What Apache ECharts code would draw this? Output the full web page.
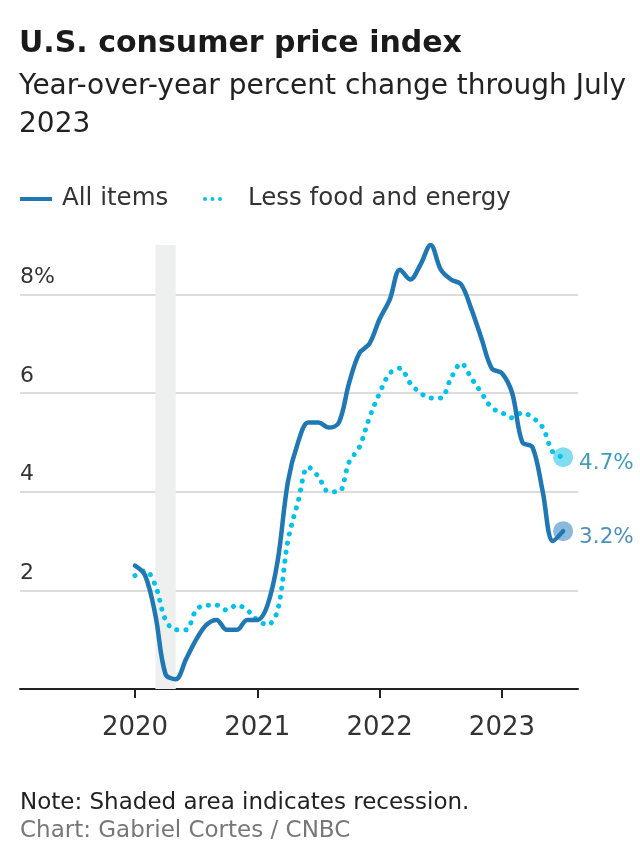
<!DOCTYPE html>
<html><head><meta charset="utf-8">
<script src="https://cdn.jsdelivr.net/npm/echarts@6/dist/echarts.min.js"></script>
<style>html,body{margin:0;padding:0;background:#fff}#c{width:640px;height:853px}</style>
</head><body><div id="c"></div>
<script>
const categories = [
 '2020-01','2020-02','2020-03','2020-04','2020-05','2020-06','2020-07','2020-08','2020-09','2020-10','2020-11','2020-12',
 '2021-01','2021-02','2021-03','2021-04','2021-05','2021-06','2021-07','2021-08','2021-09','2021-10','2021-11','2021-12',
 '2022-01','2022-02','2022-03','2022-04','2022-05','2022-06','2022-07','2022-08','2022-09','2022-10','2022-11','2022-12',
 '2023-01','2023-02','2023-03','2023-04','2023-05','2023-06','2023-07'];
const allItems = [2.5,2.3,1.5,0.3,0.2,0.6,1.0,1.3,1.4,1.2,1.2,1.4,
 1.4,1.7,2.6,4.2,5.0,5.4,5.4,5.3,5.4,6.2,6.8,7.0,
 7.5,7.9,8.5,8.3,8.6,9.0,8.5,8.3,8.2,7.7,7.1,6.5,
 6.4,6.0,5.0,4.9,4.0,3.0,3.2];
const core = [2.3,2.4,2.1,1.4,1.2,1.2,1.6,1.7,1.7,1.6,1.7,1.6,
 1.4,1.3,1.6,3.0,3.8,4.5,4.3,4.0,4.0,4.6,4.9,5.5,
 6.0,6.4,6.5,6.2,6.0,5.9,5.9,6.3,6.6,6.3,6.0,5.7,
 5.6,5.5,5.6,5.5,5.3,4.8,4.7];
const yearTicks = ['2020-01','2021-01','2022-01','2023-01'];
const yearLabels = ['2020','2021','2022','2023'];
const yTicks = [0,2,4,6,8];
const recession = ['2020-03','2020-05'];
const seriesNames = ['All items','Less food and energy'];

const FONT = '"DejaVu Sans"';
const idx = c => categories.indexOf(c);
const allData = allItems.map((v,i)=>[i,v]);
const coreData = core.map((v,i)=>[i,v]);
const tickPos = yearTicks.map(idx);
const lastI = categories.length-1;

const chart = echarts.init(document.getElementById('c'), null, {renderer:'canvas'});
chart.setOption({
  animation:false,
  backgroundColor:'#fff',
  textStyle:{fontFamily:FONT},
  title:[
    {text:'U.S. consumer price index', left:19, top:24, padding:0,
     textStyle:{fontFamily:FONT,fontSize:30,fontWeight:'bold',color:'#1a1a1a',lineHeight:40}},
    {text:'Year-over-year percent change through July\n2023', left:19, top:68, padding:0,
     textStyle:{fontFamily:FONT,fontSize:28,fontWeight:'normal',color:'#222',lineHeight:38}},
    {text:'Note: Shaded area indicates recession.', left:20, top:790, padding:0,
     textStyle:{fontFamily:FONT,fontSize:23,fontWeight:'normal',color:'#222',lineHeight:26}},
    {text:'Chart: Gabriel Cortes / CNBC', left:20, top:818, padding:0,
     textStyle:{fontFamily:FONT,fontSize:23,fontWeight:'normal',color:'#777',lineHeight:26}}
  ],
  legend:[
    {data:[seriesNames[0]], left:20, top:184, padding:0, itemWidth:32, itemHeight:4, icon:'rect',
     textStyle:{fontFamily:FONT,fontSize:24.5,color:'#333',lineHeight:30,padding:[0,0,0,5]}},
    {data:[seriesNames[1]], left:203, top:184, padding:0, itemWidth:19, itemHeight:4,
     icon:'path://M0,2a2,2 0 1,0 4,0a2,2 0 1,0 -4,0zM7.5,2a2,2 0 1,0 4,0a2,2 0 1,0 -4,0zM15,2a2,2 0 1,0 4,0a2,2 0 1,0 -4,0z',
     textStyle:{fontFamily:FONT,fontSize:24.5,color:'#333',lineHeight:30,padding:[0,0,0,21]}}
  ],
  grid:{left:20, right:62, top:245, bottom:164, containLabel:false},
  xAxis:{type:'value', min:-11.28, max:43.46,
    axisLine:{show:true,onZero:false,lineStyle:{color:'#222',width:2}},
    axisTick:{show:true,length:9,lineStyle:{color:'#222',width:2},customValues:tickPos},
    axisLabel:{customValues:tickPos, margin:26, fontFamily:FONT, fontSize:26, color:'#333',
      formatter:v=>yearLabels[tickPos.indexOf(v)] ?? ''},
    splitLine:{show:false}},
  yAxis:{type:'value', min:0, max:9, interval:2,
    axisLine:{show:false}, axisTick:{show:false},
    axisLabel:{inside:true, margin:0, verticalAlign:'bottom', lineHeight:34, fontFamily:FONT, fontSize:22, color:'#333',
      showMaxLabel:false,
      formatter:v=> (yTicks.indexOf(v) < 1) ? '' : (v===yTicks[yTicks.length-1] ? v+'%' : String(v))},
    splitLine:{show:true, showMaxLine:false, lineStyle:{color:'#dcdcdc', width:2}}},
  series:[
    {type:'line', name:'recession', data:[], silent:true, z:1,
     markArea:{silent:true, itemStyle:{color:'#eef0f0'},
       data:[[{xAxis:idx(recession[0])},{xAxis:idx(recession[1])}]]}},
    {type:'scatter', name:'endAll', data:[[lastI, allItems[lastI]]], symbolSize:20, z:2, silent:true,
     itemStyle:{color:'#6fa7d2'},
     label:{show:true, position:'right', distance:6, offset:[0,6], fontFamily:FONT, fontSize:21.5, color:'#1f72b2',
       formatter:p=>p.value[1].toFixed(1)+'%'}},
    {type:'scatter', name:'endCore', data:[[lastI, core[lastI]]], symbolSize:20, z:2, silent:true,
     itemStyle:{color:'#5fd4ee'},
     label:{show:true, position:'right', distance:6, offset:[0,6], fontFamily:FONT, fontSize:21.5, color:'#0f84a8',
       formatter:p=>p.value[1].toFixed(1)+'%'}},
    {type:'line', name:seriesNames[1], data:coreData, smooth:0.35, showSymbol:false, z:3,
     color:'#00c2ea',
     lineStyle:{color:'#00c2ea', width:5, type:[0.1,9], cap:'round'}},
    {type:'line', name:seriesNames[0], data:allData, smooth:0.35, showSymbol:false, z:4,
     color:'#1f77b4',
     lineStyle:{color:'#1f77b4', width:4.5, cap:'round', join:'round'}}
  ]
});
</script></body></html>
